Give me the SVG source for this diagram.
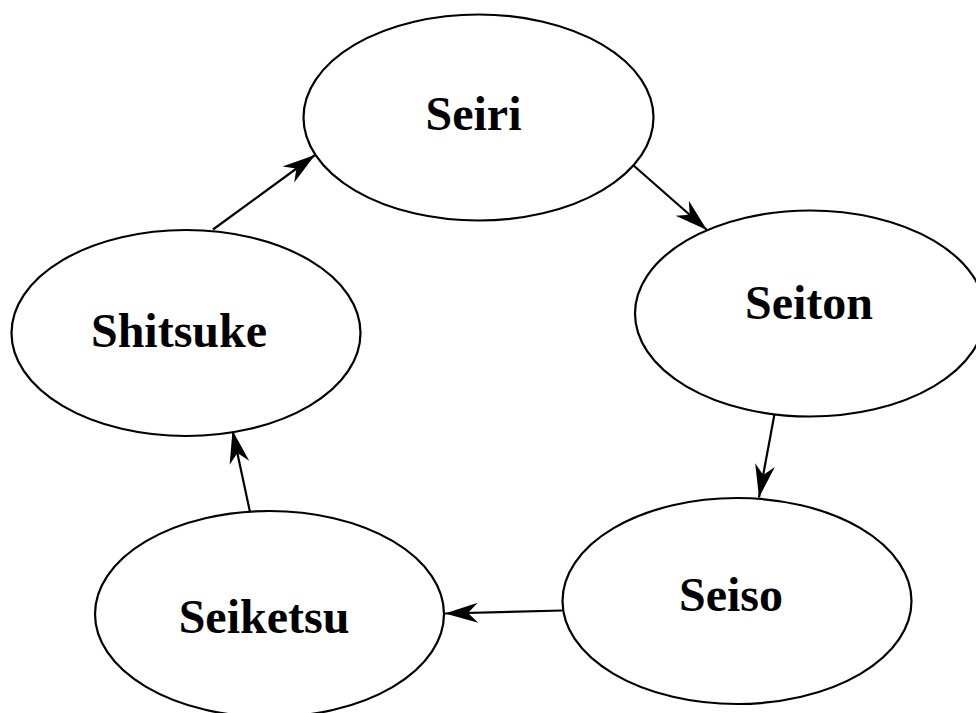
<svg xmlns="http://www.w3.org/2000/svg" width="976" height="713" viewBox="0 0 976 713">
  <style>
    .node ellipse { fill: #ffffff; stroke: #000000; stroke-width: 2.2; }
    .node text { font-family: "Liberation Serif", "Times New Roman", serif; font-weight: bold; font-size: 48px; fill: #000000; text-anchor: middle; }
    .edge { stroke: #000000; stroke-width: 2.2; fill: none; marker-end: url(#head); }
  </style>
  <defs>
    <!-- concave filled arrowhead, tip at the line end -->
    <marker id="head" markerUnits="userSpaceOnUse" viewBox="-35 -12 37 24" markerWidth="37" markerHeight="24" refX="0" refY="0" orient="auto">
      <path d="M0,0 L-33,-10 L-23,0 L-33,10 Z" fill="#000000"/>
    </marker>
  </defs>
  <rect width="976" height="713" fill="#ffffff"/>

  <g id="connectors">
    <line class="edge" x1="633" y1="165" x2="707" y2="230"/>
    <line class="edge" x1="774.5" y1="414" x2="759" y2="497.5"/>
    <line class="edge" x1="562" y1="610.5" x2="445" y2="613.5"/>
    <line class="edge" x1="250" y1="512" x2="232.5" y2="430.5"/>
    <line class="edge" x1="213" y1="229.5" x2="315" y2="155"/>
  </g>

  <g id="seiri" class="node">
    <ellipse cx="478.5" cy="117.5" rx="175" ry="103"/>
    <text x="473.5" y="130">Seiri</text>
  </g>
  <g id="seiton" class="node">
    <ellipse cx="810" cy="313.5" rx="175" ry="103"/>
    <text x="809" y="319">Seiton</text>
  </g>
  <g id="seiso" class="node">
    <ellipse cx="737" cy="601" rx="174.5" ry="103"/>
    <text x="731" y="610.5">Seiso</text>
  </g>
  <g id="seiketsu" class="node">
    <ellipse cx="269.5" cy="614" rx="174.5" ry="103"/>
    <text x="264" y="633">Seiketsu</text>
  </g>
  <g id="shitsuke" class="node">
    <ellipse cx="186" cy="333" rx="174.5" ry="103"/>
    <text x="179" y="347">Shitsuke</text>
  </g>
</svg>
